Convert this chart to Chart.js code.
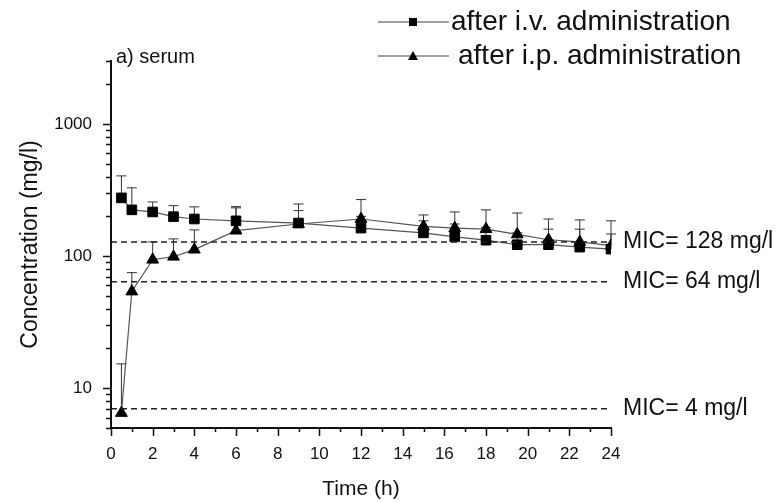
<!DOCTYPE html>
<html>
<head>
<meta charset="utf-8">
<script src="https://cdn.jsdelivr.net/npm/chart.js@4/dist/chart.umd.min.js"></script>
<style>
  body { margin: 0; background: #fff; }
  #wrap { width: 781px; height: 502px; position: relative; }
</style>
</head>
<body>
<div id="wrap"><canvas id="concChart"></canvas></div>
<script>
// sampling times (h)
const times = [0.5, 1, 2, 3, 4, 6, 9, 12, 15, 16.5, 18, 19.5, 21, 22.5, 24];

// after i.v. administration: mean and top of error bar (mg/l)
const ivMean  = [276, 224, 216, 199, 191, 185, 178, 163, 150, 140, 132, 122, 122, 117, 113];
const ivUpper = [405, 329, 257, 241, 236, 237, 221, 200, 185, 175, 165, 150, 160, 160, 147];

// after i.p. administration
const ipMean  = [6.5, 54, 94, 99, 112, 156, 175, 191, 168, 163, 160, 146, 133, 128, 120];
const ipUpper = [15.3, 75, 128, 135, 158, 232, 248, 268, 205, 216, 224, 212, 191, 188, 185];

// MIC reference lines (value where line is drawn, label)
const micValues = [128, 64, 7];
const micLabels = ['MIC= 128 mg/l', 'MIC= 64 mg/l', 'MIC= 4 mg/l'];

const xTicks = [0, 2, 4, 6, 8, 10, 12, 14, 16, 18, 20, 22, 24];
const yTicks = [10, 100, 1000];

const FONT = "'Liberation Sans', Arial, Helvetica, sans-serif";
const INK = '#111';

function toPoints(xs, ys) {
  return xs.map((x, i) => ({ x: x, y: ys[i] }));
}

const micSets = micValues.map(v => ({
  label: 'mic' + v,
  data: [{ x: 0, y: v }, { x: 24, y: v }],
  showLine: true,
  borderColor: '#222',
  borderWidth: 1.4,
  borderDash: [6, 4],
  pointRadius: 0
}));

const ivSet = {
  label: 'after i.v. administration',
  data: toPoints(times, ivMean),
  upper: ivUpper,
  showLine: true,
  borderColor: '#555',
  borderWidth: 1.2,
  pointStyle: 'rect',
  pointRadius: 6.8,
  pointBackgroundColor: '#000',
  pointBorderColor: '#000',
  pointBorderWidth: 1
};

const ipSet = {
  label: 'after i.p. administration',
  data: toPoints(times, ipMean),
  upper: ipUpper,
  showLine: true,
  borderColor: '#555',
  borderWidth: 1.2,
  pointStyle: 'triangle',
  pointRadius: 6.8,
  pointBackgroundColor: '#000',
  pointBorderColor: '#000',
  pointBorderWidth: 1
};

// error bars (upper whisker only), minor/major ticks, labels and legend
const extras = {
  id: 'extras',
  beforeDatasetsDraw(chart) {
    const { ctx, scales: { x, y } } = chart;
    ctx.save();
    ctx.strokeStyle = '#333';
    ctx.lineWidth = 1;
    chart.data.datasets.forEach(ds => {
      if (!ds.upper) return;
      ds.data.forEach((p, i) => {
        const px = x.getPixelForValue(p.x);
        const y1 = y.getPixelForValue(p.y);
        const y2 = y.getPixelForValue(ds.upper[i]);
        ctx.beginPath();
        ctx.moveTo(px, y1);
        ctx.lineTo(px, y2);
        ctx.moveTo(px - 5, y2);
        ctx.lineTo(px + 5, y2);
        ctx.stroke();
      });
    });
    ctx.restore();
  },
  afterDraw(chart) {
    const { ctx, chartArea, scales: { x, y } } = chart;
    ctx.save();
    ctx.strokeStyle = INK;
    ctx.lineWidth = 1.5;

    // y ticks (log, minor + major)
    ctx.beginPath();
    for (let dec = 1; dec <= 1000; dec *= 10) {
      for (let m = 1; m <= 9; m++) {
        const v = m * dec;
        if (v < y.min || v > y.max) continue;
        const py = Math.round(y.getPixelForValue(v)) + 0.5;
        const len = m === 1 ? 8 : 5;
        ctx.moveTo(chartArea.left, py);
        ctx.lineTo(chartArea.left - len, py);
      }
    }
    // x ticks
    for (let t = 0; t <= 24; t++) {
      const px = Math.round(x.getPixelForValue(t)) + 0.5;
      const len = t % 2 === 0 ? 8 : 4;
      ctx.moveTo(px, chartArea.bottom);
      ctx.lineTo(px, chartArea.bottom + len);
    }
    ctx.stroke();

    // MIC labels
    ctx.fillStyle = INK;
    ctx.font = '23px ' + FONT;
    ctx.textBaseline = 'middle';
    ctx.textAlign = 'left';
    micValues.forEach((v, i) => {
      ctx.fillText(micLabels[i], chartArea.right + 12, y.getPixelForValue(v));
    });

    // panel label
    ctx.font = '20px ' + FONT;
    ctx.fillText('a) serum', chartArea.left + 5, chartArea.top - 4);

    // legend
    const rows = [ivSet, ipSet];
    ctx.font = '28px ' + FONT;
    rows.forEach((ds, i) => {
      const ly = 22 + i * 34;
      ctx.strokeStyle = '#444';
      ctx.lineWidth = 1.2;
      ctx.beginPath();
      ctx.moveTo(378, ly);
      ctx.lineTo(449, ly);
      ctx.stroke();
      ctx.fillStyle = '#000';
      ctx.beginPath();
      if (ds.pointStyle === 'rect') {
        ctx.rect(409, ly - 4, 8, 8);
      } else {
        ctx.moveTo(413, ly - 5);
        ctx.lineTo(418, ly + 4);
        ctx.lineTo(408, ly + 4);
        ctx.closePath();
      }
      ctx.fill();
      ctx.fillStyle = INK;
      ctx.fillText(ds.label, i === 0 ? 451 : 458, ly);
    });
    ctx.restore();
  }
};

new Chart(document.getElementById('concChart').getContext('2d'), {
  type: 'scatter',
  data: { datasets: [...micSets, ivSet, ipSet] },
  options: {
    responsive: true,
    maintainAspectRatio: false,
    animation: false,
    layout: { padding: { top: 61, right: 170, left: 0, bottom: 0 } },
    plugins: {
      legend: { display: false },
      tooltip: { enabled: false }
    },
    scales: {
      x: {
        type: 'linear',
        min: 0,
        max: 24,
        grid: { display: false, drawTicks: false },
        border: { display: true, color: INK, width: 2 },
        afterBuildTicks: s => { s.ticks = xTicks.map(v => ({ value: v })); },
        afterFit: s => { s.height = 74; },
        ticks: { color: INK, padding: 16, maxRotation: 0, font: { family: FONT, size: 17 } },
        title: {
          display: true,
          text: 'Time (h)',
          color: INK,
          padding: { top: 0, bottom: 0 },
          font: { family: FONT, size: 21 }
        }
      },
      y: {
        type: 'logarithmic',
        min: 5,
        max: 3000,
        grid: { display: false, drawTicks: false },
        border: { display: true, color: INK, width: 2 },
        afterBuildTicks: s => { s.ticks = yTicks.map(v => ({ value: v })); },
        afterFit: s => { s.width = 111; },
        ticks: {
          color: INK,
          padding: 19,
          font: { family: FONT, size: 17 },
          callback: v => String(v)
        },
        title: {
          display: true,
          text: 'Concentration (mg/l)',
          color: INK,
          padding: { top: 17, bottom: 0 },
          font: { family: FONT, size: 23 }
        }
      }
    }
  },
  plugins: [extras]
});
</script>
</body>
</html>
